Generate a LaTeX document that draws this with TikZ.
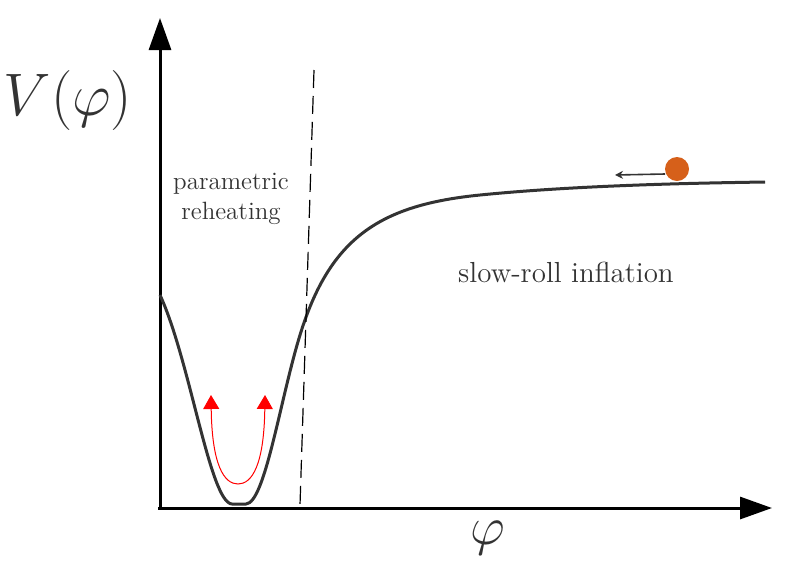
\RequirePackage{fix-cm}
\documentclass[tikz,border=0pt]{standalone}
\usepackage{tikz}
\usetikzlibrary{arrows.meta,positioning}

\begin{document}
\begin{tikzpicture}[x=0.5pt,y=-0.5pt,
        axis/.style={line width=1.5pt, -{Triangle[length=16pt,width=11pt]}},
        potential/.style={line width=1.5pt, black!80, line join=round},
        osc/.style={line width=0.5pt, red, {Triangle[length=7pt,width=8pt]}-{Triangle[length=7pt,width=8pt]}},
        lbl/.style={text=black!80, align=center}]
          \useasboundingbox (0,0) rectangle (785,574);

          %draw axes
          \coordinate (origin) at (160,508);
          \coordinate (ytip) at (160,18);
          \coordinate (xtip) at (772,508);
          \draw[axis] (origin) -- (ytip);
          \draw[axis] (158,508) -- (xtip);
          \node[text=black!80, font={\fontsize{30}{34}\selectfont}] (vlabel) at (68,100) {$V(\varphi)$};
          \node[text=black!80, font={\fontsize{27}{30}\selectfont}] (philabel) at (488,538) {$\varphi$};

          %draw potential
          \draw[potential] (160,295) .. controls (190,360) and (210,503) .. (232,504)
                -- (246,504) .. controls (265,503) and (280,400) .. (300,335)
                .. controls (330,237.5) and (380,205) .. (480,195)
                .. controls (580,185) and (700,183) .. (765,182);

          %draw end of inflation
          \coordinate (dtop) at (314,70);
          \coordinate (dbot) at (300,505);
          \draw[line width=0.6pt, dash pattern=on 9pt off 4pt] (dtop) -- (dbot);

          %draw oscillation
          \coordinate (oscl) at (211,395);
          \coordinate (oscbot) at (238,484);
          \coordinate (oscr) at (265,395);
          \draw[osc] (oscl) .. controls (212,465) and (224,484) .. (oscbot)
                .. controls (252,484) and (264,465) .. (oscr);

          %draw inflaton ball
          \node[circle, fill={rgb,255:red,214;green,96;blue,26}, minimum size=12pt, inner sep=0pt] (ball) at (677,169) {};
          \coordinate (rollend) at (615,175);
          \draw[-{Stealth[length=4pt,width=4pt]}, line width=0.8pt, black!80] (665,174) -- (rollend);

          %labels
          \node[lbl, font={\fontsize{12.5}{15}\selectfont}] (reheat) at (231,199) {parametric\\reheating};
          \node[lbl, font={\fontsize{14.5}{17}\selectfont}] (slowroll) at (566,272) {slow-roll inflation};
    \end{tikzpicture}
\end{document}
